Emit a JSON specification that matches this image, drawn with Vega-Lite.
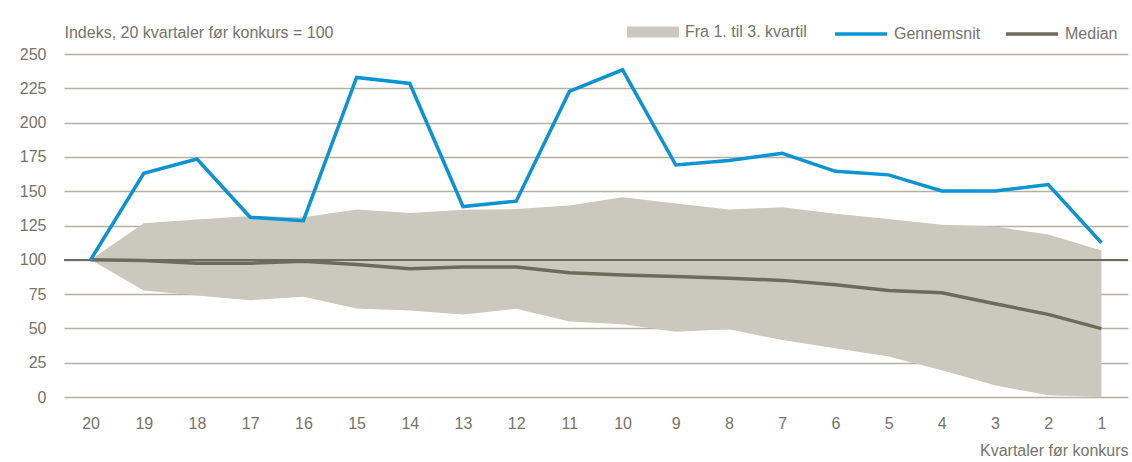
{
  "$schema": "https://vega.github.io/schema/vega-lite/v6.json",
  "width": 1064,
  "height": 343,
  "autosize": {"type": "none"},
  "padding": {"left": 64, "top": 54, "right": 4, "bottom": 65},
  "background": "white",
  "config": {
    "view": {"stroke": null},
    "font": "Liberation Sans",
    "axis": {"labelFont": "Liberation Sans", "titleFont": "Liberation Sans", "labelColor": "#76746a", "titleColor": "#76746a", "labelFontSize": 16, "titleFontSize": 16, "titleFontWeight": "normal"},
    "legend": {"labelFont": "Liberation Sans", "labelColor": "#76746a", "labelFontSize": 16}
  },
  "data": {"values": [
    {"q": 20, "mean": 100, "median": 100, "q1": 100, "q3": 100},
    {"q": 19, "mean": 163, "median": 99.5, "q1": 77.7, "q3": 126.6},
    {"q": 18, "mean": 173.5, "median": 97.5, "q1": 74, "q3": 129.3},
    {"q": 17, "mean": 131, "median": 97.5, "q1": 70.5, "q3": 132},
    {"q": 16, "mean": 128.5, "median": 99, "q1": 73, "q3": 131},
    {"q": 15, "mean": 232.9, "median": 96.6, "q1": 64.5, "q3": 136.6},
    {"q": 14, "mean": 228.5, "median": 93.5, "q1": 63, "q3": 134.2},
    {"q": 13, "mean": 138.8, "median": 94.8, "q1": 60.2, "q3": 136.4},
    {"q": 12, "mean": 142.7, "median": 94.8, "q1": 64.3, "q3": 137},
    {"q": 11, "mean": 222.7, "median": 90.5, "q1": 55, "q3": 139.5},
    {"q": 10, "mean": 238.5, "median": 89, "q1": 53, "q3": 145.6},
    {"q": 9, "mean": 169.1, "median": 87.8, "q1": 47.5, "q3": 141},
    {"q": 8, "mean": 172.3, "median": 86.6, "q1": 49.3, "q3": 136.6},
    {"q": 7, "mean": 177.6, "median": 85, "q1": 41.5, "q3": 138.3},
    {"q": 6, "mean": 164.5, "median": 81.8, "q1": 35.5, "q3": 133.5},
    {"q": 5, "mean": 161.9, "median": 77.7, "q1": 29.6, "q3": 129.8},
    {"q": 4, "mean": 150.2, "median": 76, "q1": 19.5, "q3": 125.5},
    {"q": 3, "mean": 150.2, "median": 68, "q1": 8.5, "q3": 124.2},
    {"q": 2, "mean": 154.8, "median": 60.2, "q1": 1.2, "q3": 118.4},
    {"q": 1, "mean": 112.4, "median": 49.8, "q1": 0, "q3": 106.8}
  ]},
  "encoding": {
    "x": {"field": "q", "type": "ordinal", "sort": "descending",
      "axis": {"title": "Kvartaler før konkurs", "labelAngle": 0, "ticks": false, "tickSize": 0, "domain": false, "grid": false, "labelPadding": 18, "titleAlign": "right", "titleAnchor": null, "titleX": 1064, "titleY": 53, "titleBaseline": "middle"}},
    "y": {"type": "quantitative", "scale": {"domain": [0, 250]},
      "axis": {"title": "Indeks, 20 kvartaler før konkurs = 100", "values": [0,25,50,75,100,125,150,175,200,225,250], "ticks": false, "tickSize": 0, "domain": false, "labelPadding": 18, "gridColor": "#b3b0a2", "gridWidth": 1.5, "titleAngle": 0, "titleAlign": "left", "titleAnchor": null, "titleX": 0, "titleY": -22, "titleBaseline": "middle"}}
  },
  "layer": [
    {
      "mark": {"type": "area", "opacity": 1},
      "encoding": {
        "y": {"field": "q1", "type": "quantitative"},
        "y2": {"field": "q3"},
        "fill": {"datum": "Fra 1. til 3. kvartil", "type": "nominal",
          "scale": {"domain": ["Fra 1. til 3. kvartil"], "range": ["#c9c9bd"]},
          "legend": {"title": null, "orient": "none", "direction": "horizontal", "legendX": 563, "legendY": -48, "symbolType": "M-1,-0.21H1V0.21H-1Z", "symbolSize": 2704, "symbolStrokeWidth": 0, "symbolOpacity": 1, "labelOffset": 6}}
      }
    },
    {
      "mark": {"type": "rule", "color": "#6d6b5d", "strokeWidth": 1.5},
      "encoding": {"y": {"datum": 100}, "x": {"value": 0}, "x2": {"value": 1064}}
    },
    {
      "mark": {"type": "line", "strokeWidth": 3.5},
      "encoding": {
        "y": {"field": "median", "type": "quantitative"},
        "stroke": {"datum": "Median", "type": "nominal"}
      }
    },
    {
      "mark": {"type": "line", "strokeWidth": 3.5},
      "encoding": {
        "y": {"field": "mean", "type": "quantitative"},
        "stroke": {"datum": "Gennemsnit", "type": "nominal",
          "scale": {"domain": ["Gennemsnit", "Median"], "range": ["#0b93d3", "#6d6b5d"]},
          "legend": {"title": null, "orient": "none", "direction": "horizontal", "legendX": 769, "legendY": -48, "symbolType": "stroke", "symbolSize": 2704, "symbolStrokeWidth": 3.5, "labelOffset": 5, "columnPadding": 18}}
      }
    }
  ]
}
